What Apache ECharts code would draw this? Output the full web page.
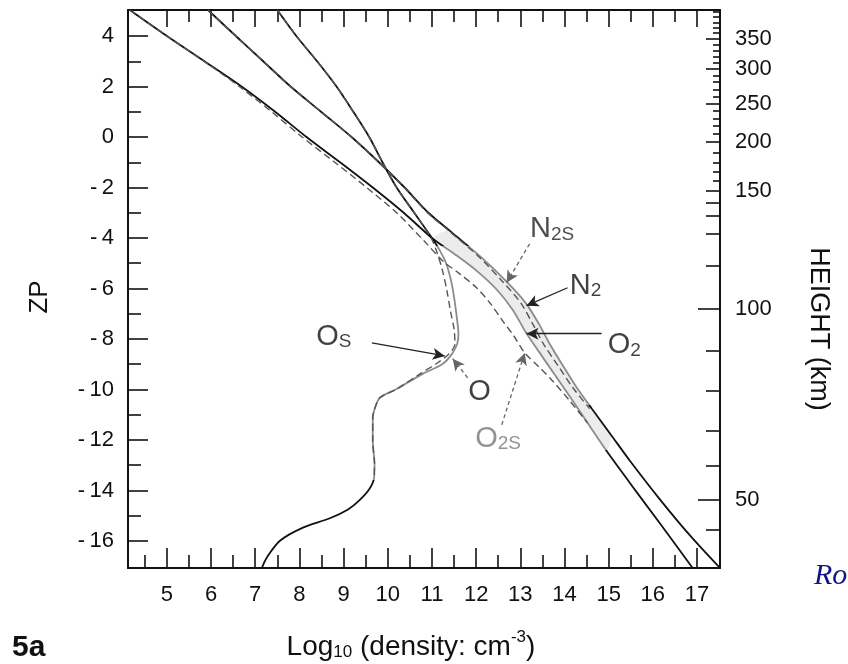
<!DOCTYPE html>
<html>
<head>
<meta charset="utf-8">
<script src="https://cdn.jsdelivr.net/npm/echarts@6/dist/echarts.min.js"></script>
<style>
  html, body { margin: 0; padding: 0; background: #fff; }
  #chart { width: 848px; height: 664px; }
</style>
</head>
<body>
<div id="chart"></div>
<script>
// Profiles: [log10 number density (cm^-3), ZP pressure level]
const o2 = [[4.16,5.03],[5.0,4.0],[5.85,3.0],[6.69,2.0],[7.45,1.0],[8.16,0.0],[8.92,-1.0],[9.66,-2.0],[10.36,-3.0],[11.02,-4.03],[11.54,-4.67],[12.04,-5.34],[12.47,-6.05],[12.83,-6.85],[13.12,-7.72],[13.44,-8.55],[13.78,-9.42],[14.14,-10.33],[14.52,-11.32],[14.95,-12.43],[15.48,-13.7],[16.2,-15.4],[16.9,-17.07]];
const o2s = [[4.16,5.03],[5.0,4.0],[5.84,3.0],[6.64,2.0],[7.37,1.0],[8.06,0.0],[8.8,-1.0],[9.52,-2.0],[10.2,-3.0],[10.84,-4.15],[11.24,-4.9],[11.63,-5.42],[12.01,-5.97],[12.33,-6.61],[12.6,-7.28],[12.85,-7.87],[13.1,-8.55],[13.42,-9.1],[13.73,-9.66],[14.12,-10.45],[14.52,-11.32]];
const n2 = [[5.93,5.03],[6.56,4.0],[7.18,3.0],[7.8,2.0],[8.49,1.0],[9.18,0.0],[9.8,-1.0],[10.38,-2.0],[10.92,-3.0],[11.4,-3.71],[12.1,-4.74],[12.69,-5.73],[13.12,-6.57],[13.42,-7.4],[13.69,-8.27],[13.98,-9.1],[14.28,-9.93],[14.62,-10.76],[15.05,-11.79],[15.48,-12.82],[16.15,-14.33],[16.83,-15.76],[17.52,-17.07]];
const n2s = [[5.93,5.03],[6.56,4.0],[7.18,3.0],[7.8,2.0],[8.49,1.0],[9.18,0.0],[9.8,-1.0],[10.37,-2.0],[10.9,-3.0],[11.38,-3.71],[12.06,-4.74],[12.6,-5.73],[13.01,-6.57],[13.28,-7.4],[13.55,-8.27],[13.87,-9.1],[14.19,-9.93],[14.57,-10.76]];
const o = [[7.5,5.03],[7.93,4.0],[8.4,3.0],[8.84,2.0],[9.22,1.0],[9.58,0.0],[9.88,-1.0],[10.2,-2.0],[10.6,-3.0],[11.0,-4.0],[11.18,-4.5],[11.32,-5.0],[11.43,-5.67],[11.5,-6.34],[11.57,-7.25],[11.6,-7.8],[11.57,-8.2],[11.45,-8.6],[11.24,-8.99],[10.79,-9.38],[10.2,-9.98],[9.82,-10.33],[9.71,-10.73],[9.66,-11.13],[9.66,-12.04],[9.7,-12.95],[9.69,-13.5],[9.58,-13.95],[9.35,-14.4],[9.1,-14.75],[8.69,-15.1],[8.08,-15.47],[7.56,-15.99],[7.26,-16.66],[7.15,-17.07]];
const os = [[7.5,5.03],[7.93,4.0],[8.4,3.0],[8.84,2.0],[9.22,1.0],[9.58,0.0],[9.88,-1.0],[10.2,-2.0],[10.6,-3.0],[10.98,-4.0],[11.12,-4.6],[11.24,-5.3],[11.34,-6.1],[11.42,-6.9],[11.5,-7.6],[11.52,-8.2],[11.38,-8.6],[11.12,-8.95],[10.75,-9.36],[10.2,-9.98],[9.82,-10.33],[9.71,-10.73],[9.66,-11.13],[9.66,-12.04],[9.7,-12.95],[9.69,-13.5]];

// Axis extents and tick positions
const densityRange = [4.12, 17.52];
const zpRange = [-17.07, 5.03];
const densityMajor = [5,6,7,8,9,10,11,12,13,14,15,16,17];
const densityMinor = [4.5,5.5,6.5,7.5,8.5,9.5,10.5,11.5,12.5,13.5,14.5,15.5,16.5];
const densityMinorTop = [5.5,6.5,7.5,8.5,9.5,10.5,11.5,12.5,13.5,14.5,15.5,16.5];
const zpMajor = [-16,-14,-12,-10,-8,-6,-4,-2,0,2,4];
const zpMinor = [-15,-13,-11,-9,-7,-5,-3,-1,1,3];

// Geometric height scale (km) and the ZP level of each height tick
const heightLabelKm = [50,100,150,200,250,300,350];
const heightLabelZp = [-14.37,-6.8,-2.14,-0.19,1.31,2.7,3.89];
const heightLongZp = [-14.37,-6.8];
const heightMidZp = [-15.56,-13.02,-11.64,-10.05,-8.47,-5.1,-3.83,-3.12,-2.6,-2.14,-0.19,1.31,2.7,3.89];
const heightShortZp = [-1.74,-1.36,-1.0,-0.63,0.13,0.44,0.74,1.04,1.59,1.87,2.17,2.42,2.94,3.18,3.41,3.65,4.11,4.32,4.54,4.76,4.96];

// Annotation arrows: [from, to, dashed]
const arrows = [
  [[13.21,-4.23],[12.69,-5.77],true],
  [[14.07,-5.97],[13.14,-6.68],false],
  [[14.84,-7.79],[13.14,-7.79],false],
  [[12.58,-11.4],[13.10,-8.55],true],
  [[11.81,-9.54],[11.47,-8.78],true],
  [[9.64,-8.15],[11.29,-8.67],false]
];
// Annotation labels: anchor [left edge, middle], main letter, subscript, colour
const labels = [
  [[13.22,-3.64],'N','2S','#222'],
  [[14.12,-5.89],'N','2','#111'],
  [[14.98,-8.23],'O','2','#111'],
  [[11.82,-10.09],'O','','#111'],
  [[11.98,-11.95],'O','2S','#777'],
  [[8.38,-7.91],'O','S','#111']
];

const FONT = '"Liberation Sans", Arial, Helvetica, sans-serif';
const INK = '#111';

function hiddenAxisBase(extra) {
  return Object.assign({
    type: 'value',
    splitLine: { show: false },
    axisLine: { show: false, onZero: false },
    axisLabel: { show: false }
  }, extra);
}

function tickSet(values, len) {
  return { show: true, inside: true, length: len, customValues: values,
           lineStyle: { color: INK, width: 1.6 } };
}

const axisLine = { show: true, onZero: false, lineStyle: { color: INK, width: 2 } };
const signed = v => (v < 0 ? '-\u2009' + Math.abs(v) : String(v));

const xAxes = [
  hiddenAxisBase({ position: 'bottom', min: densityRange[0], max: densityRange[1],
    axisLine: axisLine,
    axisTick: tickSet(densityMajor, 20),
    axisLabel: { show: true, customValues: densityMajor, margin: 16,
                 fontFamily: FONT, fontSize: 22, color: INK } }),
  hiddenAxisBase({ position: 'bottom', min: densityRange[0], max: densityRange[1],
    axisTick: tickSet(densityMinor, 13) }),
  hiddenAxisBase({ position: 'top', min: densityRange[0], max: densityRange[1],
    axisLine: axisLine, axisTick: tickSet(densityMajor, 17) }),
  hiddenAxisBase({ position: 'top', min: densityRange[0], max: densityRange[1],
    axisTick: tickSet(densityMinorTop, 12) })
];

const yAxes = [
  hiddenAxisBase({ position: 'left', min: zpRange[0], max: zpRange[1],
    axisLine: axisLine,
    axisTick: tickSet(zpMajor, 20),
    axisLabel: { show: true, customValues: zpMajor, margin: 14, formatter: signed,
                 fontFamily: FONT, fontSize: 22, color: INK } }),
  hiddenAxisBase({ position: 'left', min: zpRange[0], max: zpRange[1],
    axisTick: tickSet(zpMinor, 13) }),
  hiddenAxisBase({ position: 'right', min: zpRange[0], max: zpRange[1],
    axisLine: axisLine,
    axisTick: tickSet(heightLongZp, 22),
    axisLabel: { show: true, customValues: heightLabelZp, margin: 15,
                 fontFamily: FONT, fontSize: 22, color: INK,
                 formatter: v => String(heightLabelKm[heightLabelZp.indexOf(v)]) } }),
  hiddenAxisBase({ position: 'right', min: zpRange[0], max: zpRange[1],
    axisTick: tickSet(heightMidZp, 14) }),
  hiddenAxisBase({ position: 'right', min: zpRange[0], max: zpRange[1],
    axisTick: tickSet(heightShortZp, 7) })
];

function profileLine(name, data, width, dashed) {
  const style = { width: width, type: dashed ? [7, 4] : 'solid' };
  if (dashed) style.color = '#555';
  return {
    name: name, type: 'line', data: data, showSymbol: false, symbol: 'none',
    smooth: 0.3, silent: true, z: dashed ? 4 : 3, lineStyle: style
  };
}

// Shaded band between the N2 and O2 profiles
const bandEdgeOuter = n2.filter(p => p[1] <= -3.7 && p[1] >= -12.5);
const bandEdgeInner = o2.filter(p => p[1] <= -4.0 && p[1] >= -12.5).reverse();
const bandPolygon = bandEdgeOuter.concat(bandEdgeInner);

const series = [
  {
    type: 'custom', name: 'band', silent: true, z: 1,
    data: [[densityRange[0], zpRange[0]]],
    renderItem: function (params, api) {
      return {
        type: 'polygon',
        shape: { points: bandPolygon.map(p => api.coord(p)), smooth: 0.25 },
        style: { fill: '#ececec' }
      };
    }
  },
  profileLine('O2', o2, 1.8, false),
  profileLine('N2', n2, 1.8, false),
  profileLine('O', o, 1.8, false),
  profileLine('O2S', o2s, 1.4, true),
  profileLine('N2S', n2s, 1.4, true),
  profileLine('OS', os, 1.4, true),
  {
    type: 'line', name: 'arrows', data: [], silent: true, z: 6,
    markLine: {
      silent: true, symbol: ['none', 'arrow'], symbolSize: [9, 12],
      label: { show: false },
      data: arrows.map(a => [
        { coord: a[0], lineStyle: { type: a[2] ? [4, 3] : 'solid', color: a[2] ? '#666' : '#222', width: 1.3 } },
        { coord: a[1] }
      ])
    }
  },
  {
    type: 'scatter', name: 'labels', symbolSize: 0, silent: true, z: 7,
    data: labels.map(l => ({
      value: l[0],
      label: {
        show: true, position: [0, 0], align: 'left', verticalAlign: 'middle',
        formatter: '{m|' + l[1] + '}' + (l[2] ? '{s|' + l[2] + '}' : ''),
        rich: {
          m: { fontFamily: FONT, fontSize: 29, color: l[3], lineHeight: 30, verticalAlign: 'bottom' },
          s: { fontFamily: FONT, fontSize: 19, color: l[3], lineHeight: 4, verticalAlign: 'bottom' }
        }
      }
    }))
  }
];

const chart = echarts.init(document.getElementById('chart'), null, { renderer: 'canvas' });
chart.setOption({
  animation: false,
  backgroundColor: '#ffffff',
  grid: { left: 128, right: 128, top: 10, bottom: 96, containLabel: false },
  xAxis: xAxes,
  yAxis: yAxes,
  visualMap: [
    { type: 'piecewise', show: false, seriesIndex: 1, dimension: 1,
      pieces: [{ gt: -4.3, color: INK }, { gte: -12.4, lte: -4.3, color: '#8c8c8c' }, { lt: -12.4, color: INK }] },
    { type: 'piecewise', show: false, seriesIndex: 2, dimension: 1,
      pieces: [{ gt: -4.3, color: INK }, { gte: -10.6, lte: -4.3, color: '#8c8c8c' }, { lt: -10.6, color: INK }] },
    { type: 'piecewise', show: false, seriesIndex: 3, dimension: 1,
      pieces: [{ gt: -4.3, color: INK }, { gte: -13.6, lte: -4.3, color: '#8c8c8c' }, { lt: -13.6, color: INK }] }
  ],
  graphic: [
    { type: 'text', x: 40, y: 297, rotation: Math.PI / 2,
      style: { text: 'ZP', font: '26px ' + FONT, fill: INK, align: 'center', verticalAlign: 'middle' } },
    { type: 'text', x: 818, y: 329, rotation: -Math.PI / 2,
      style: { text: 'HEIGHT (km)', font: '27px ' + FONT, fill: INK, align: 'center', verticalAlign: 'middle' } },
    { type: 'text', x: 411, y: 645,
      style: {
        text: '{a|Log}{b|10}{a| (density: cm}{c|-3}{a|)}',
        align: 'center', verticalAlign: 'middle',
        rich: {
          a: { fontFamily: FONT, fontSize: 28, fill: INK, lineHeight: 30, verticalAlign: 'bottom' },
          b: { fontFamily: FONT, fontSize: 17, fill: INK, lineHeight: 2, verticalAlign: 'bottom' },
          c: { fontFamily: FONT, fontSize: 17, fill: INK, lineHeight: 32, verticalAlign: 'top' }
        }
      } },
    { type: 'text', x: 12, y: 648,
      style: { text: '5a', font: 'bold 30px ' + FONT, fill: INK, verticalAlign: 'middle' } },
    { type: 'text', x: 814, y: 576,
      style: { text: 'Ro', font: 'italic 30px "Liberation Serif", "Times New Roman", serif', fill: '#12128a', verticalAlign: 'middle' } }
  ],
  series: series
});
</script>
</body>
</html>
